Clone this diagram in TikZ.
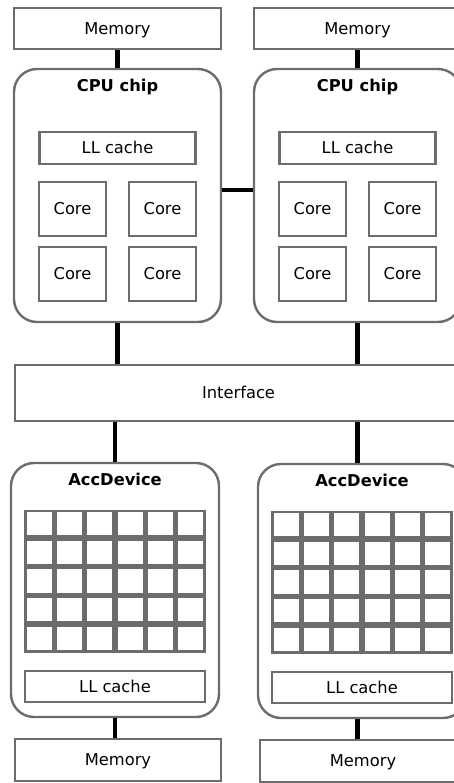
\documentclass[tikz,border=0pt]{standalone}
\usepackage{fontspec}
\setmainfont{DejaVu Sans}
\usetikzlibrary{positioning}

\definecolor{boxgray}{RGB}{108,108,108}

\tikzset{
  box/.style={draw=boxgray, line width=2.4pt, fill=white, inner sep=0pt,
    text height=11.9pt, text depth=0pt},
  chip/.style={draw=boxgray, line width=2.4pt, fill=white, rounded corners=23pt},
  pe/.style={draw=boxgray, line width=2.7pt, inner sep=0pt,
    minimum width=27.6pt, minimum height=25.9pt},
  bus/.style={line width=4.5pt, black},
  title/.style={font=\bfseries, anchor=base},
}

\begin{document}
\fontsize{16.3}{19.5}\selectfont
\begin{tikzpicture}[x=1pt,y=-1pt]
  \useasboundingbox (0,0) rectangle (454,783);
  \clip (0,0) rectangle (454,783);

  % host side: two memories and two CPU chips
  \node[box, minimum width=207pt, minimum height=41pt] (mem1) at (117.5,28.5) {Memory};
  \node[box, minimum width=207pt, minimum height=41pt] (mem2) at (357.5,28.5) {Memory};
  \node[chip, minimum width=207pt, minimum height=253pt] (cpu1) at (117.5,195.5) {};
  \node[chip, minimum width=207pt, minimum height=253pt] (cpu2) at (357.5,195.5) {};

  \foreach \k in {1,2} {
    \node[title] (cpuname\k) at ([yshift=-24pt]cpu\k.north) {CPU chip};
    \begin{scope}[shift={(cpu\k.center)}]
      \node[box, minimum width=156pt, minimum height=32pt] (llc\k) at (0,-47.5) {LL cache};
      % 2x2 cores
      \foreach \c/\dx in {1/-45,2/45}
        \foreach \r/\dy in {1/13.5,2/78.5}
          \node[box, minimum width=67pt, minimum height=54pt] (core\k-\c-\r) at (\dx,\dy) {Core};
    \end{scope}
  }

  \node[box, minimum width=447pt, minimum height=56pt] (iface) at (238.5,393) {Interface};

  % accelerators with their PE grid
  \node[chip, minimum width=208pt, minimum height=254pt] (acc1) at (115,590) {};
  \node[chip, minimum width=208pt, minimum height=254pt] (acc2) at (362,591) {};

  \foreach \k in {1,2} {
    \node[title] (accname\k) at ([yshift=-24pt]acc\k.north) {AccDevice};
    \begin{scope}[shift={(acc\k.center)}]
      \foreach \i in {1,...,6}
        \foreach \j in {1,...,5}
          \node[pe] (pe\k-\i-\j) at ({-91+30.33*(\i-0.5)},{-80.5+28.6*(\j-0.5)}) {};
      \node[box, minimum width=180pt, minimum height=31pt] (accllc\k) at (0,96.5) {LL cache};
    \end{scope}
  }

  \node[box, minimum width=206pt, minimum height=42pt] (mem3) at (118,760) {Memory};
  \node[box, minimum width=206pt, minimum height=42pt] (mem4) at (363,761) {Memory};

  % buses
  \draw[bus] (mem1) -- (cpu1);
  \draw[bus] (mem2) -- (cpu2);
  \draw[bus] ([yshift=5.5pt]cpu1.east) -- ([yshift=5.5pt]cpu2.west);
  \draw[bus] (cpu1.south) -- (cpu1.south |- iface.north);
  \draw[bus] (cpu2.south) -- (cpu2.south |- iface.north);
  \draw[bus] (acc1.north |- iface.south) -- (acc1.north);
  \draw[bus] (cpu2.south |- iface.south) -- (cpu2.south |- acc2.north);
  \draw[bus] (acc1.south) -- (acc1.south |- mem3.north);
  \draw[bus] (cpu2.south |- acc2.south) -- (cpu2.south |- mem4.north);
\end{tikzpicture}
\end{document}
